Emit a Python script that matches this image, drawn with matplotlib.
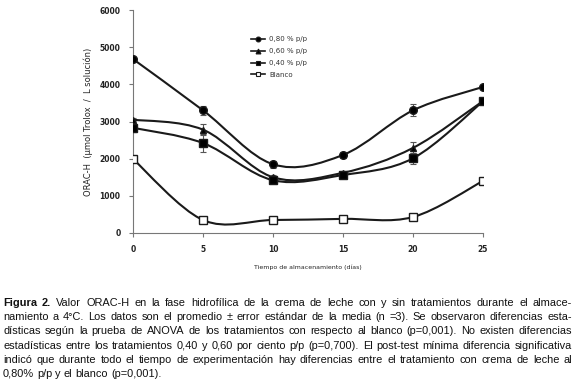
import numpy as np
import matplotlib
matplotlib.use("Agg")
import matplotlib.pyplot as plt
from matplotlib.path import Path
from matplotlib.patches import PathPatch
from matplotlib import font_manager as fm

days = [0, 5, 10, 15, 20, 25]
s080 = [4680, 3300, 1850, 2100, 3300, 3930]
e080 = [60, 120, 100, 90, 160, 40]
s060 = [3050, 2780, 1500, 1620, 2290, 3550]
e060 = [40, 150, 60, 60, 150, 40]
s040 = [2830, 2420, 1420, 1560, 2010, 3540]
e040 = [120, 250, 60, 60, 150, 40]
sbl = [1990, 350, 350, 380, 430, 1400]
ebl = [60, 40, 40, 30, 40, 40]
labels = ["0,80 % p/p", "0,60 % p/p", "0,40 % p/p", "Blanco"]
yticks = [0, 1000, 2000, 3000, 4000, 5000, 6000]

caption_lines = [
    "Valor ORAC-H en la fase hidrofílica de la crema de leche con y sin tratamientos durante el almace-",
    "namiento a 4°C. Los datos son el promedio ± error estándar de la media (n =3). Se observaron diferencias esta-",
    "dísticas según la prueba de ANOVA de los tratamientos con respecto al blanco (p=0,001). No existen diferencias",
    "estadísticas entre los tratamientos 0,40 y 0,60 por ciento p/p (p=0,700). El post-test mínima diferencia significativa",
    "indicó que durante todo el tiempo de experimentación hay diferencias entre el tratamiento con crema de leche al",
    "0,80% p/p y el blanco (p=0,001).",
]

fig = plt.figure(figsize=(5.8, 3.86), dpi=100)
ax = fig.add_axes([133 / 580, 1 - 233 / 386, 350 / 580, 223 / 386])


def smooth_path(x, y):
    x = np.asarray(x, float)
    y = np.asarray(y, float)
    n = len(x)
    verts = [(x[0], y[0])]
    codes = [Path.MOVETO]
    for i in range(n - 1):
        p0 = np.array([x[max(i - 1, 0)], y[max(i - 1, 0)]])
        p1 = np.array([x[i], y[i]])
        p2 = np.array([x[i + 1], y[i + 1]])
        p3 = np.array([x[min(i + 2, n - 1)], y[min(i + 2, n - 1)]])
        c1 = p1 + (p2 - p0) / 6.0
        c2 = p2 - (p3 - p1) / 6.0
        verts += [tuple(c1), tuple(c2), tuple(p2)]
        codes += [Path.CURVE4] * 3
    return Path(verts, codes)


series = [(s080, e080, "o", "k"), (s060, e060, "^", "k"), (s040, e040, "s", "k"), (sbl, ebl, "s", "none")]
handles = []
for (vals, errs, mk, fc), lab in zip(series, labels):
    ax.add_patch(PathPatch(smooth_path(days, vals), fill=False, lw=1.5, ec="#1a1a1a", zorder=2))
    ax.errorbar(days, vals, yerr=errs, fmt="none", ecolor="#555555", elinewidth=0.8, capsize=2, capthick=0.8, zorder=3)
    ax.plot(days, vals, ls="none", marker=mk, ms=5.5 if mk != "^" else 5,
            mfc=fc if fc != "none" else "white", mec="#1a1a1a", mew=1.0, zorder=4)
    h, = ax.plot([], [], color="#1a1a1a", lw=1.2, marker=mk, ms=3.5,
                 mfc=fc if fc != "none" else "white", mec="#1a1a1a", mew=0.8, label=lab)
    handles.append(h)

ax.set_xlim(0, 25)
ax.set_ylim(0, 6000)
ax.set_xticks(days)
ax.set_yticks(yticks)
for s in ["top", "right"]:
    ax.spines[s].set_visible(False)
for s in ["left", "bottom"]:
    ax.spines[s].set_color("#777777")
    ax.spines[s].set_linewidth(0.8)
ax.tick_params(axis="both", labelsize=5.5, color="#777777", length=3, width=0.8, pad=6)
for t in ax.get_xticklabels() + ax.get_yticklabels():
    t.set_fontweight("bold")
    t.set_color("#222222")
ax.set_ylabel("ORAC-H  (µmol Trolox  /  L solución)", fontsize=6, color="#222222")
ax.yaxis.set_label_coords(-(133 - 93) / 350, 0.5)
ax.set_xlabel("Tiempo de almacenamiento (días)", fontsize=4.5, color="#222222")
ax.xaxis.set_label_coords(0.5, -(265 - 233) / 223)

leg = ax.legend(handles=handles, loc="upper left", bbox_to_anchor=(0.33, 0.895), frameon=False,
                fontsize=5, handlelength=2.0, labelspacing=0.85, borderaxespad=0, handletextpad=0.6)
for t in leg.get_texts():
    t.set_color("#333333")

renderer = fig.canvas.get_renderer()
left_px, right_px = 3, 572


def width_of(txt, fs, fams, weight="normal"):
    t = fig.text(0, 0, txt, fontsize=fs, family=fams, fontweight=weight)
    w = t.get_window_extent(renderer).width
    t.remove()
    return w


def fit_size(fams):
    fs = 8.0
    for _ in range(40):
        widest = max(width_of(("Figura 2. " if i == 0 else "") + l, fs, fams)
                     for i, l in enumerate(caption_lines))
        if widest <= (right_px - left_px) * 0.985:
            break
        fs -= 0.1
    return fs


best = None
for cand in ["Liberation Sans", "Roboto", "Lato", "Inter"]:
    try:
        fm.findfont(fm.FontProperties(family=cand), fallback_to_default=False)
    except Exception:
        continue
    fams_c = [cand, "DejaVu Sans"]
    fsc = fit_size(fams_c)
    if best is None or fsc > best[1]:
        best = (fams_c, fsc)
fams, fs = best

y0 = 386 - 306
line_h = 14.2
space = width_of("a b", fs, fams) - width_of("ab", fs, fams)
for li, line in enumerate(caption_lines):
    ypx = y0 - li * line_h
    items = []
    if li == 0:
        items.append(("Figura", "bold"))
        items.append(("2.", "bold"))
    items += [(w, "normal") for w in line.split(" ")]
    widths = [width_of(w, fs, fams, wt) for w, wt in items]
    total = sum(widths)
    gaps = len(items) - 1
    if li == len(caption_lines) - 1:
        gap = space
    else:
        gap = (right_px - left_px - total) / gaps
    x = left_px
    for (w, wt), wd in zip(items, widths):
        fig.text(x / 580, ypx / 386, w, fontsize=fs, family=fams, fontweight=wt,
                 va="baseline", color="#111111")
        x += wd + gap

fig.savefig("out.png", dpi=100)
